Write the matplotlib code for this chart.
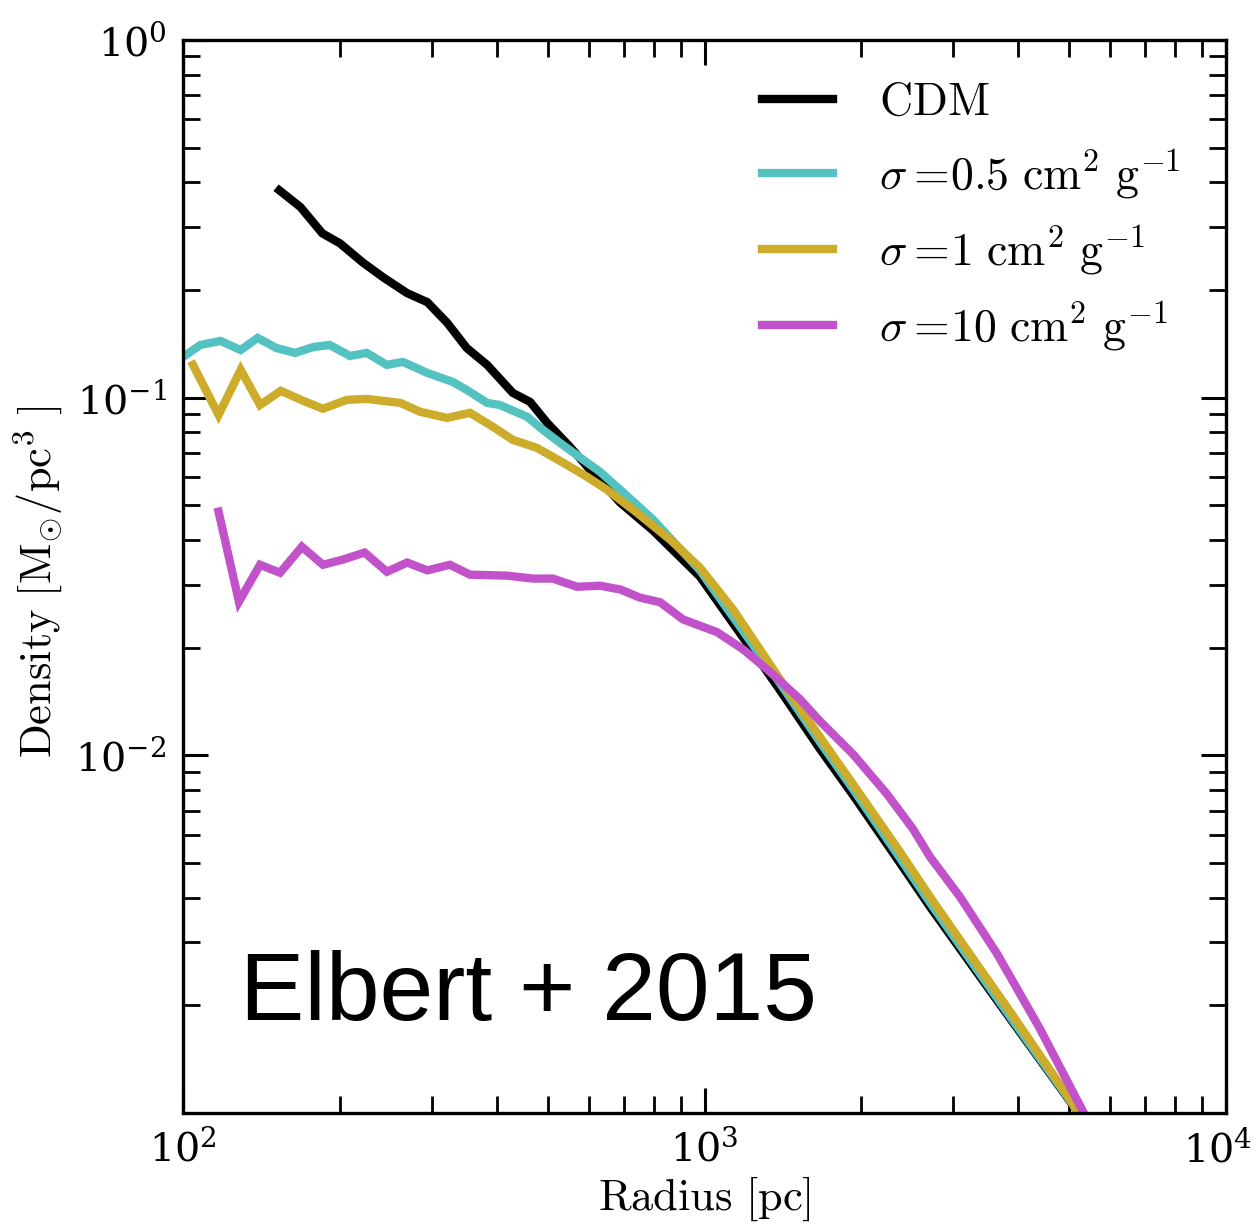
import numpy as np
import matplotlib
matplotlib.use("Agg")
import matplotlib.pyplot as plt
import matplotlib.transforms as mtransforms
from matplotlib.ticker import LogLocator, NullFormatter, FixedLocator

plt.rcParams["mathtext.fontset"] = "cm"
plt.rcParams["font.family"] = ["DejaVu Serif"]

# Density profiles: radius [pc] and density [Msun/pc^3]
r_cdm = [153, 168, 185, 200, 221, 242, 269, 294, 321, 350, 383, 429, 463, 499,
         552, 603, 689, 797, 980, 1134, 1261, 1396, 1666, 1927, 2371, 2707,
         3273, 3905, 5089, 5180]
rho_cdm = [0.380, 0.341, 0.288, 0.270, 0.239, 0.217, 0.196, 0.185, 0.162, 0.1377,
           0.1235, 0.1031, 0.0973, 0.0851, 0.0729, 0.0629, 0.0509, 0.0425, 0.0316,
           0.0234, 0.0188, 0.0152, 0.0104, 0.00774, 0.0050, 0.00377, 0.00256,
           0.00179, 0.00105, 0.00101]

r_s05 = [100, 108, 118, 129, 139, 151, 164, 178, 191, 209, 225, 246, 264, 294,
         329, 350, 383, 405, 457, 490, 528, 585, 630, 689, 797, 980, 1134, 1396,
         1666, 1927, 2371, 2707, 3273, 3905, 5089, 5180]
rho_s05 = [0.1300, 0.1404, 0.1441, 0.1359, 0.1469, 0.1377, 0.1334, 0.1386, 0.1404,
           0.1308, 0.1334, 0.1235, 0.1259, 0.1173, 0.1107, 0.1051, 0.0967, 0.0954,
           0.0884, 0.0813, 0.0748, 0.0671, 0.0621, 0.0553, 0.0456, 0.0329, 0.0244,
           0.0159, 0.01088, 0.00804, 0.00516, 0.00387, 0.00261, 0.00181, 0.001055,
           0.00101]

r_s1 = [104.5, 117, 129, 140.5, 154, 170, 185.5, 206, 225, 261, 285, 321, 355,
        393, 429, 477, 535.5, 595, 650, 742, 859, 980, 1134, 1396, 1666, 1927,
        2371, 2707, 3273, 3905, 5089, 5180]
rho_s1 = [0.1235, 0.0895, 0.1196, 0.0954, 0.1045, 0.0980, 0.0931, 0.0986, 0.0992,
          0.0967, 0.0913, 0.0878, 0.0907, 0.0829, 0.0762, 0.0724, 0.0658, 0.0601,
          0.0553, 0.0477, 0.0401, 0.0335, 0.0256, 0.0163, 0.01123, 0.0083, 0.00537,
          0.00402, 0.0027, 0.00187, 0.00106, 0.00101]

r_s10 = [117, 128, 140.5, 153.5, 169, 185.5, 203, 223, 246, 269, 294, 325, 355,
         418, 469, 512, 570, 630, 689, 752, 822, 909, 1057, 1185, 1318, 1525,
         1666, 1927, 2239, 2511, 2707, 3090, 3638, 4398, 5319]
rho_s10 = [0.0480, 0.0269, 0.0341, 0.0324, 0.0383, 0.0341, 0.0353, 0.0369, 0.0326,
           0.0346, 0.0329, 0.0341, 0.0320, 0.0318, 0.0312, 0.0312, 0.0296, 0.0298,
           0.0291, 0.0276, 0.0268, 0.0240, 0.0221, 0.0198, 0.0174, 0.01434,
           0.01245, 0.01007, 0.00779, 0.00622, 0.0052, 0.00402, 0.00279, 0.00172,
           0.00101]

labels = [r"$\mathrm{CDM}$",
          r"$\sigma =\!0.5\ \mathrm{cm}^{2}\ \mathrm{g}^{-1}$",
          r"$\sigma =\!1\ \mathrm{cm}^{2}\ \mathrm{g}^{-1}$",
          r"$\sigma =\!10\ \mathrm{cm}^{2}\ \mathrm{g}^{-1}$"]
colors = ["#000000", "#53c2c0", "#cdab2b", "#c252c9"]

fig = plt.figure(figsize=(12.56, 12.29), dpi=100)
ax = fig.add_axes([183 / 1256, 1 - 1113 / 1229, (1226 - 183) / 1256, (1113 - 40) / 1229])

series = [(r_cdm, rho_cdm), (r_s05, rho_s05), (r_s1, rho_s1), (r_s10, rho_s10)]
for (r, rho), lab, c in zip(series, labels, colors):
    ax.plot(r, rho, color=c, lw=6.0, label=lab, solid_joinstyle="miter")

ax.set_xscale("log")
ax.set_yscale("log")
ax.set_xlim(1e2, 1e4)
ax.set_ylim(1e-3, 1e0)

ax.xaxis.set_major_locator(FixedLocator([1e2, 1e3, 1e4]))
ax.yaxis.set_major_locator(FixedLocator([1e-2, 1e-1, 1e0]))
ax.xaxis.set_minor_locator(LogLocator(base=10, subs=np.arange(2, 10)))
ax.yaxis.set_minor_locator(LogLocator(base=10, subs=np.arange(2, 10)))
ax.xaxis.set_minor_formatter(NullFormatter())
ax.yaxis.set_minor_formatter(NullFormatter())

ax.tick_params(which="both", direction="in", top=True, right=True,
               labelsize=28.5, colors="black")
ax.tick_params(which="major", length=18, width=2.2, pad=12)
ax.tick_params(which="minor", length=12, width=2.0)
for sp in ax.spines.values():
    sp.set_linewidth(2.4)

# keep the rightmost radius label inside the canvas
last_tick = ax.xaxis.get_major_ticks()[-1]
last_tick.label1.set_transform(last_tick.label1.get_transform() +
                               mtransforms.ScaledTranslation(-0.08, 0, fig.dpi_scale_trans))

ax.set_xlabel(r"$\mathrm{Radius}\ [\mathrm{pc}]$", fontsize=32, labelpad=4)
ax.set_ylabel(r"$\mathrm{Density}\ [\mathrm{M}_{\odot}/\mathrm{pc}^{3}\ ]$",
              fontsize=32)
ax.yaxis.set_label_coords(-0.113, 0.495)

leg = ax.legend(loc="upper left", bbox_to_anchor=(0.555, 0.963), frameon=False,
                fontsize=33, handlelength=1.55, handletextpad=1.0,
                labelspacing=0.5, borderpad=0, borderaxespad=0)

ax.text(0.0547, 0.087, "Elbert + 2015", transform=ax.transAxes,
        fontsize=69.5, family="Liberation Sans", color="black",
        ha="left", va="baseline")

fig.savefig("out.png", dpi=100)
